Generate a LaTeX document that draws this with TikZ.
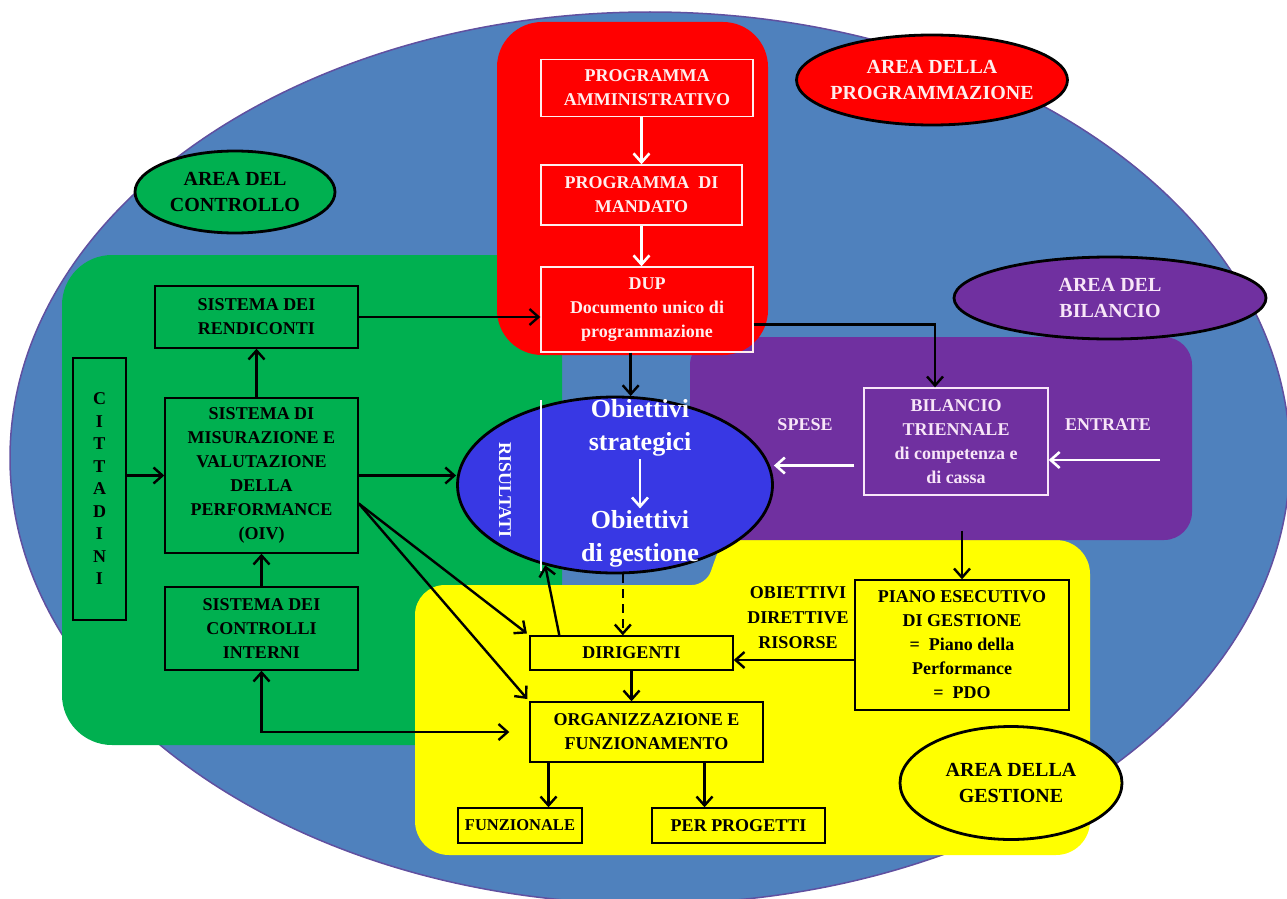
\documentclass[tikz,border=0pt]{standalone}
\usepackage{fontspec}
\setmainfont{Liberation Serif}
\usetikzlibrary{arrows.meta,shapes.geometric}
\definecolor{fondo}{RGB}{79,129,189}
\definecolor{bordo}{RGB}{96,80,160}
\definecolor{verde}{RGB}{0,176,80}
\definecolor{rosso}{RGB}{255,0,0}
\definecolor{viola}{RGB}{112,48,160}
\definecolor{giallo}{RGB}{255,255,0}
\definecolor{blu}{RGB}{56,56,228}
\definecolor{rosa}{RGB}{255,238,238}
\definecolor{lilla}{RGB}{248,230,248}
\begin{document}
\begin{tikzpicture}[x=1pt,y=-1pt,
		>={Straight Barb[length=9pt,width=16pt]},
		every node/.style={font=\bfseries\fontsize{18}{24}\selectfont, align=center, inner sep=2pt},
		box/.style={draw, rectangle, line width=1.4pt},
		rbox/.style={box, draw=rosa, text=rosa},
		vbox/.style={box, draw=lilla, text=lilla},
		area/.style={ellipse, draw=black, line width=2.8pt, inner sep=0pt},
		areatext/.style={font=\bfseries\fontsize{20}{26}\selectfont},
		freccia/.style={->, line width=2.4pt},
		bianca/.style={white, line width=2.6pt}]
			\useasboundingbox (0,0) rectangle (1287,899);
			\clip (0,0) rectangle (1287,899);
			\fill[white] (0,0) rectangle (1287,899);
			% aree
			\draw[fill=fondo, draw=bordo, line width=1.5pt] (650,458) ellipse [x radius=640pt, y radius=446pt];
			\fill[verde, rounded corners=50pt] (62,255) rectangle (562,745);
			\fill[giallo, rounded corners=30pt] (415,855) -- (415,585) [rounded corners=14pt] -- (706,585) -- (722,540) [rounded corners=34pt] -- (1090,540) -- (1090,855) -- cycle;
			\fill[viola, rounded corners=28pt] (690,337) rectangle (1192,540);
			\fill[rosso, rounded corners=45pt] (497,22) rectangle (768,355);

			\node (Ap) at (932,80) [area, fill=rosso, minimum width=271pt, minimum height=90pt,
				label={[areatext, text=rosa]center:AREA DELLA\\PROGRAMMAZIONE}] {};
			\node (Ac) at (235,192) [area, fill=verde, minimum width=200pt, minimum height=82pt,
				label={[areatext]center:AREA DEL\\CONTROLLO}] {};
			\node (Ab) at (1110,298) [area, fill=viola, minimum width=312pt, minimum height=82pt,
				label={[areatext, text=lilla]center:AREA DEL\\BILANCIO}] {};
			\node (Ag) at (1011,783) [area, fill=giallo, minimum width=222pt, minimum height=113pt,
				label={[areatext]center:AREA DELLA\\GESTIONE}] {};

			% programmazione
			\node (Pa) at (647,88) [rbox, minimum width=212pt, minimum height=57pt] {PROGRAMMA\\AMMINISTRATIVO};
			\node (Pm) at (641.5,195) [rbox, minimum width=201pt, minimum height=60pt] {PROGRAMMA \ DI\\MANDATO};
			\node (Du) at (647,309.5) [rbox, minimum width=212pt, minimum height=85pt] {DUP\\Documento unico di\\programmazione};
			\draw[bianca, ->] (Pa.south -| Pm.north) -- (Pm.north);
			\draw[bianca, ->] (Pm.south) -- (Pm.south |- Du.north);

			% controllo
			\node (Re) at (256.5,317) [box, minimum width=203pt, minimum height=62pt] {SISTEMA DEI\\RENDICONTI};
			\node (Ci) at (99.5,489) [box, minimum width=53pt, minimum height=262pt, font=\bfseries\fontsize{18}{22.5}\selectfont] {C\\I\\T\\T\\A\\D\\I\\N\\I};
			\node (Mi) at (261.5,475.5) [box, minimum width=193pt, minimum height=155pt] {SISTEMA DI\\MISURAZIONE E\\VALUTAZIONE\\DELLA\\PERFORMANCE\\(OIV)};
			\node (Co) at (261.5,628.5) [box, minimum width=193pt, minimum height=83pt] {SISTEMA DEI\\CONTROLLI\\INTERNI};

			% risultati
			\node (Ri) at (615,485) [ellipse, draw=black, line width=2.8pt, fill=blu, minimum width=315pt, minimum height=176pt] {};
			\draw[white, line width=1.5pt] (541,400) -- (541,571);
			\node (Rt) at (505,490) [rotate=-90, text=white] {RISULTATI};
			\node (Os) at (640,428) [text=white, font=\bfseries\fontsize{26}{33}\selectfont] {Obiettivi\\strategici};
			\node (Og) at (640,539) [text=white, font=\bfseries\fontsize{26}{33}\selectfont] {Obiettivi\\di gestione} edge [<-, bianca] (Os);

			% bilancio
			\node (Bi) at (956,441.5) [vbox, minimum width=184pt, minimum height=107pt] {BILANCIO\\TRIENNALE\\di competenza e\\di cassa};
			\node (Sp) at (805,425) [text=lilla] {SPESE};
			\node (Et) at (1108,425) [text=lilla] {ENTRATE};
			\coordinate (En) at (1160,460);
			\draw[bianca, ->] (En) -- (En -| Bi.east);
			\draw[bianca, ->, shorten <=9pt] ([yshift=-24pt]Bi.west) -- ([yshift=-24pt]Bi.west -| Ri.east);

			% gestione
			\node (Pe) at (962,645) [box, minimum width=214pt, minimum height=130pt] {PIANO ESECUTIVO\\DI GESTIONE\\=\ \ Piano della\\Performance\\=\ \ PDO};
			\node (Ob) at (798,618) [font=\bfseries\fontsize{18}{25}\selectfont] {OBIETTIVI\\DIRETTIVE\\RISORSE};
			\node (Di) at (631.5,653) [box, minimum width=203pt, minimum height=34pt] {DIRIGENTI};
			\node (Or) at (646.5,732) [box, minimum width=233pt, minimum height=60pt] {ORGANIZZAZIONE E\\FUNZIONAMENTO};
			\node (Fu) at (520,825.5) [box, minimum width=124pt, minimum height=35pt, font=\bfseries\fontsize{16.5}{22}\selectfont] {FUNZIONALE};
			\node (Pp) at (738.5,825.5) [box, minimum width=173pt, minimum height=35pt] {PER PROGETTI};

			% frecce
			\draw[freccia] (Ci.east |- Mi.west) -- (Mi.west);
			\draw[freccia] (Mi.north -| Re.south) -- (Re.south);
			\draw[freccia] (Co.north) -- (Mi.south);
			\draw[freccia] (Re.east) -- (Re.east -| Du.west);
			\draw[freccia] (Mi.east) -- (Mi.east -| Ri.west);
			\draw[freccia] (Du.south -| Ri.80) -- (Ri.80);
			\draw[freccia] ([yshift=-15pt]Du.east) -| ([xshift=-21pt]Bi.north);
			\draw[freccia, shorten <=35pt] (Bi.south -| Pe.north) -- (Pe.north);
			\draw[freccia] ([yshift=-15pt]Pe.west) -- ([yshift=-15pt]Pe.west -| Di.east);
			\draw[freccia, shorten >=3pt] ([yshift=-28pt]Mi.east) -- (Di.north west);
			\draw[freccia, shorten >=3pt] ([yshift=-28pt]Mi.east) -- (Or.north west);
			\draw[freccia] ([xshift=30pt]Di.north west) -- (Ri.229);
			\draw[freccia, dash pattern=on 9pt off 6pt] (Ri.275) -- (Ri.275 |- Di.north);
			\draw[freccia] (Di.south) -- (Di.south |- Or.north);
			\draw[freccia] ([xshift=-98pt]Or.south) -- ([xshift=-98pt]Or.south |- Fu.north);
			\draw[freccia] ([xshift=58pt]Or.south) -- ([xshift=58pt]Or.south |- Pp.north);
			\draw[freccia, <->, shorten >=20pt] (Co.south) |- (Or.west);
		\end{tikzpicture}
\end{document}
